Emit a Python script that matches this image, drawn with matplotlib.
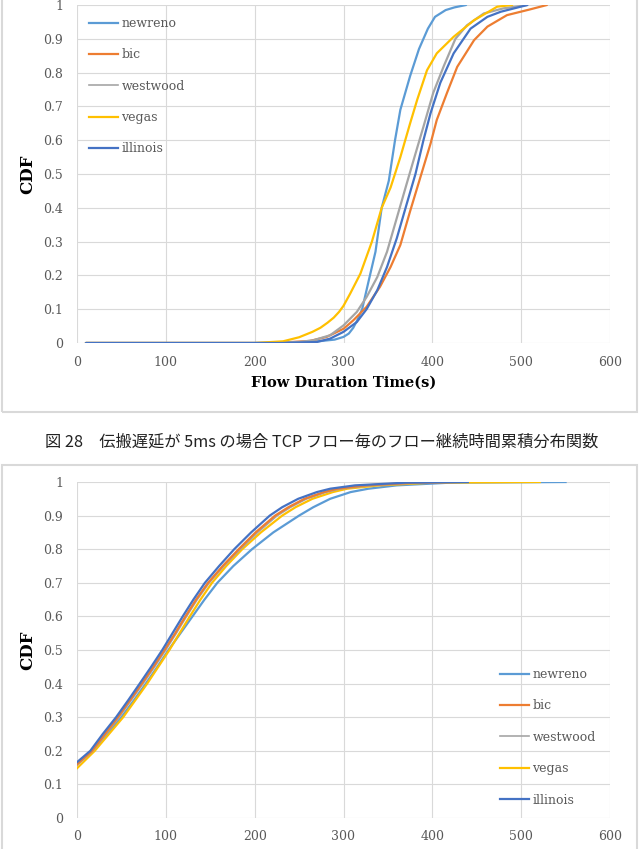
import matplotlib
matplotlib.use("Agg")
import matplotlib.pyplot as plt
from matplotlib.patches import Rectangle
from matplotlib.lines import Line2D

W, H = 643, 849
series = ["newreno", "bic", "westwood", "vegas", "illinois"]
colors = {"newreno": "#5B9BD5", "bic": "#ED7D31", "westwood": "#A5A5A5",
          "vegas": "#FFC000", "illinois": "#4472C4"}

# ---- top chart (5 ms) : flow duration (s) vs CDF ----
top_newreno_x = [10, 200, 260, 290, 300, 306, 311, 316, 321, 328, 336, 343, 351, 358, 364, 375, 385, 395, 403, 415, 425, 438]
top_newreno_y = [0, 0, 0.002, 0.01, 0.018, 0.028, 0.045, 0.07, 0.10, 0.18, 0.27, 0.40, 0.48, 0.60, 0.69, 0.79, 0.87, 0.93, 0.965, 0.985, 0.993, 1.0]

top_bic_x = [10, 220, 262, 281, 300, 311, 326, 341, 353, 364, 375, 386.5, 398, 405, 416.5, 428, 447, 462, 484, 510, 529]
top_bic_y = [0, 0, 0.006, 0.018, 0.042, 0.067, 0.107, 0.166, 0.225, 0.29, 0.39, 0.49, 0.59, 0.66, 0.74, 0.817, 0.896, 0.936, 0.97, 0.987, 1.0]

top_westwood_x = [10, 210, 250, 266, 285, 300, 315, 326, 338, 349, 360, 371, 381, 390, 401, 413, 426, 439, 458, 480, 507]
top_westwood_y = [0, 0, 0.003, 0.008, 0.023, 0.052, 0.092, 0.136, 0.195, 0.27, 0.37, 0.47, 0.56, 0.64, 0.74, 0.82, 0.90, 0.94, 0.975, 0.99, 1.0]

top_vegas_x = [10, 200, 232, 250, 265, 274, 282, 289, 295, 300, 307.5, 319, 332, 343, 353, 364, 375, 383, 394, 405, 424, 447, 473, 490]
top_vegas_y = [0, 0, 0.005, 0.017, 0.033, 0.045, 0.06, 0.075, 0.092, 0.11, 0.146, 0.205, 0.30, 0.40, 0.46, 0.55, 0.65, 0.72, 0.807, 0.857, 0.906, 0.955, 0.995, 1.0]

top_illinois_x = [10, 230, 270, 285, 300, 315, 326, 338, 349, 360, 371, 381, 390, 398, 409, 424, 443, 462, 477, 507]
top_illinois_y = [0, 0, 0.003, 0.013, 0.033, 0.062, 0.10, 0.156, 0.225, 0.31, 0.41, 0.50, 0.60, 0.68, 0.77, 0.857, 0.93, 0.965, 0.98, 1.0]

# ---- bottom chart : CDF levels and the time at which each series reaches them ----
bot_levels = [0.2, 0.25, 0.3, 0.35, 0.4, 0.45, 0.5, 0.55, 0.6, 0.65, 0.7, 0.75, 0.8, 0.85,
              0.9, 0.925, 0.95, 0.97, 0.98, 0.99, 0.998, 1.0]
bot_start = {"newreno": 0.160, "bic": 0.160, "westwood": 0.158, "vegas": 0.148, "illinois": 0.166}
bot_newreno_x = [17.5, 34, 50, 64, 77.5, 90.5, 103, 116.5, 130, 143.5, 158, 176, 197, 221,
                 250, 266, 285, 308, 328, 360, 420, 550]
bot_bic_x = [17, 31.5, 46, 59.5, 73, 86, 98.5, 110.5, 122, 134, 147.5, 164, 182, 201,
             223, 238, 256, 278, 293, 325, 380, 430]
bot_westwood_x = [17.5, 32.5, 47, 60.5, 74, 87, 99.5, 111.5, 123, 135, 148.5, 165, 183.5, 203,
                  225, 240, 258, 280, 296, 330, 385, 430]
bot_vegas_x = [20, 36, 52, 65.5, 79, 91.5, 104, 115.5, 127, 139, 152, 168, 186, 207,
               231, 246, 265, 288, 304, 340, 400, 521]
bot_illinois_x = [15, 29, 44, 57.5, 70.6, 83.5, 96, 107.5, 119, 131, 144, 160, 177, 196,
                  217, 231, 249, 270, 285, 313, 370, 440]

x_ticks = [0, 100, 200, 300, 400, 500, 600]
y_ticks = [0, 0.1, 0.2, 0.3, 0.4, 0.5, 0.6, 0.7, 0.8, 0.9, 1.0]
y_ticklabels = ["0", "0.1", "0.2", "0.3", "0.4", "0.5", "0.6", "0.7", "0.8", "0.9", "1"]
caption = "図 28\u3000伝搬遅延が 5ms の場合 TCP フロー毎のフロー継続時間累積分布関数"

SERIF = "DejaVu Serif"
fig = plt.figure(figsize=(W / 100, H / 100), dpi=100)

def px(x0, y0, x1, y1):
    return [x0 / W, 1 - y1 / H, (x1 - x0) / W, (y1 - y0) / H]

# chart frames
for (x0, y0, x1, y1) in [(2, -5, 637, 412), (2, 465, 637, 860)]:
    fig.patches.append(Rectangle((x0 / W, 1 - y1 / H), (x1 - x0) / W, (y1 - y0) / H,
                                 transform=fig.transFigure, fill=False,
                                 edgecolor="#D9D9D9", linewidth=1.5))

def style(ax):
    ax.set_xlim(0, 600)
    ax.set_ylim(0, 1)
    ax.set_xticks(x_ticks)
    ax.set_yticks(y_ticks)
    ax.set_yticklabels(y_ticklabels)
    ax.grid(True, color="#D9D9D9", linewidth=0.8)
    ax.set_axisbelow(True)
    for s in ax.spines.values():
        s.set_visible(False)
    ax.tick_params(length=0, labelsize=9, labelcolor="#595959")
    ax.tick_params(axis="x", pad=9)
    ax.tick_params(axis="y", pad=10)
    for lab in ax.get_xticklabels() + ax.get_yticklabels():
        lab.set_family(SERIF)
    ax.set_ylabel("CDF", fontsize=12, fontweight="bold", family=SERIF, labelpad=5)

ax1 = fig.add_axes(px(77, 5, 610, 343))
top = {"newreno": (top_newreno_x, top_newreno_y), "bic": (top_bic_x, top_bic_y),
       "westwood": (top_westwood_x, top_westwood_y), "vegas": (top_vegas_x, top_vegas_y),
       "illinois": (top_illinois_x, top_illinois_y)}
for name in series:
    xs, ys = top[name]
    ax1.plot(xs, ys, color=colors[name], lw=1.6, label=name, solid_capstyle="round",
             solid_joinstyle="round")
style(ax1)
ax1.set_xlabel("Flow Duration Time(s)", fontsize=10.5, fontweight="bold", family=SERIF, labelpad=5)

ax2 = fig.add_axes(px(77, 482, 610, 818))
bot = {"newreno": bot_newreno_x, "bic": bot_bic_x, "westwood": bot_westwood_x,
       "vegas": bot_vegas_x, "illinois": bot_illinois_x}
draw_order = ["newreno", "vegas", "westwood", "bic", "illinois"]
for name in draw_order:
    xs = [0] + bot[name]
    ys = [bot_start[name]] + bot_levels
    ax2.plot(xs, ys, color=colors[name], lw=1.6, solid_joinstyle="round")
style(ax2)

def legend(ax, x, y):
    handles = [Line2D([], [], color=colors[n], lw=1.6 if n != "westwood" else 1.2) for n in series]
    leg = ax.legend(handles, series, loc="upper left", bbox_to_anchor=(x / W, 1 - y / H),
                    bbox_transform=fig.transFigure, frameon=False, borderpad=0,
                    borderaxespad=0, handlelength=2.3, handletextpad=0.3,
                    labelspacing=1.47, prop={"family": SERIF, "size": 9})
    for t in leg.get_texts():
        t.set_color("#595959")

legend(ax1, 89, 17)
legend(ax2, 500, 668)

fig.text(322 / W, 1 - 442 / H, caption, ha="center", va="center", fontsize=11.7,
         family=["Noto Sans CJK JP", "DejaVu Sans"], color="#222222")

fig.savefig("out.png", dpi=100)
